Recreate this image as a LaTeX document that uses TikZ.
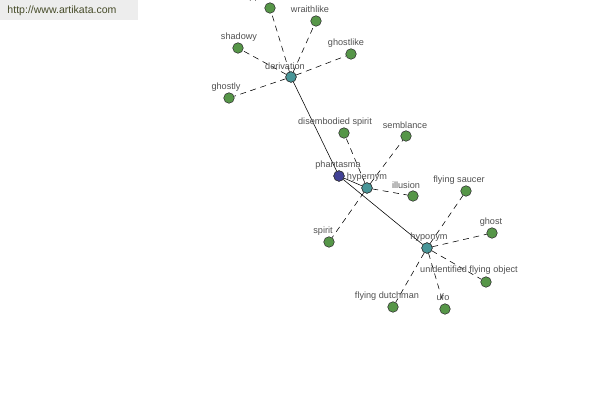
\documentclass[tikz,border=0pt]{standalone}
\usepackage{fontspec}
\setmainfont{Liberation Sans}
\begin{document}
\begin{tikzpicture}[x=0.025cm,y=-0.025cm,line cap=round,line join=round]
  \definecolor{leafgreen}{RGB}{86,150,72}
  \definecolor{hubteal}{RGB}{72,150,152}
  \definecolor{rootblue}{RGB}{66,66,150}
  \definecolor{labelgray}{RGB}{80,80,80}
  \tikzset{
    dot/.style={circle,draw=black!80,line width=0.4pt,inner sep=0pt,minimum size=7.5pt},
    leaf/.style={dot,fill=leafgreen},
    hub/.style={dot,fill=hubteal},
    root/.style={dot,fill=rootblue},
    word/.style={text=labelgray,font=\fontsize{6.5}{7.5}\selectfont,inner sep=0pt},
    rel/.style={line width=0.4pt,dash pattern=on 4pt off 3.5pt}
  }
  \useasboundingbox (0,0) rectangle (600,400);

  % Site banner
  \fill[black!7] (0,0) rectangle (138,20);
  \node[text={rgb,255:red,70;green,75;blue,40},font=\fontsize{7.5}{9}\selectfont,inner sep=0pt] (url) at (62,11) {http://www.artikata.com};

  % Hubs
  \node[root] (phantasma) at (339,176) {};
  \node[hub] (derivation) at (291,77) {};
  \node[hub] (hypernym) at (367,188) {};
  \node[hub] (hyponym) at (427,248) {};

  % Solid links
  \draw[line width=0.4pt] (phantasma) -- (derivation);
  \draw[line width=0.4pt] (phantasma) -- (hypernym);
  \draw[line width=0.4pt] (phantasma) -- (hyponym);

  % Leaves: name/x/y/hub
  \foreach \n/\x/\y/\h in {apparitional/270/8/derivation, wraithlike/316/21/derivation,
      shadowy/238/48/derivation, ghostlike/351/54/derivation, ghostly/229/98/derivation,
      disembodied/344/133/hypernym, semblance/406/136/hypernym,
      illusion/413/196/hypernym, spirit/329/242/hypernym,
      saucer/466/191/hyponym, ghost/492/233/hyponym, ufo-long/486/282/hyponym,
      ufo/445/309/hyponym, dutchman/393/307/hyponym}
  {
    \node[leaf] (\n) at (\x,\y) {};
    \draw[rel] (\h) -- (\n);
  }
  % redraw dots over the dashes
  \foreach \n in {derivation,hypernym,hyponym}
    \node[hub] at (\n) {};
  \node[root] at (phantasma) {};

  % Labels
  \node[word] (lbl-derivation) at (285,66) {derivation};
  \node[word] (lbl-phantasma) at (338,165) {phantasma};
  \node[word] (lbl-hypernym) at (367,177) {hypernym};
  \node[word] (lbl-hyponym) at (429,237) {hyponym};
  \node[word] (lbl-apparitional) at (268,-3) {apparitional};
  \node[word] (lbl-wraithlike) at (310,9) {wraithlike};
  \node[word] (lbl-shadowy) at (239,37) {shadowy};
  \node[word] (lbl-ghostlike) at (346,43) {ghostlike};
  \node[word] (lbl-ghostly) at (226,87) {ghostly};
  \node[word] (lbl-disembodied) at (335,122) {disembodied spirit};
  \node[word] (lbl-semblance) at (405,125) {semblance};
  \node[word] (lbl-illusion) at (406,185) {illusion};
  \node[word] (lbl-spirit) at (323,231) {spirit};
  \node[word] (lbl-saucer) at (459,180) {flying saucer};
  \node[word] (lbl-ghost) at (491,222) {ghost};
  \node[word] (lbl-ufo-long) at (469,270) {unidentified flying object};
  \node[word] (lbl-ufo) at (443,297) {ufo};
  \node[word] (lbl-dutchman) at (387,296) {flying dutchman};
\end{tikzpicture}
\end{document}
